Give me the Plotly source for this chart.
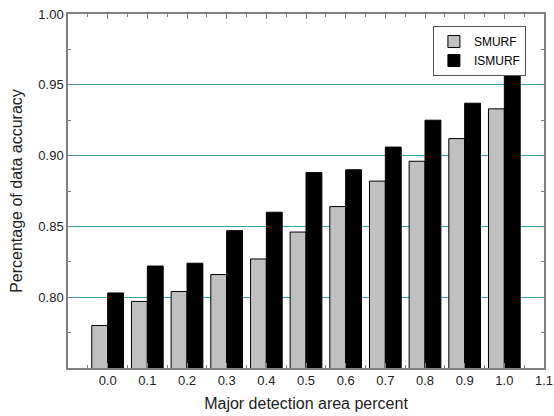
import plotly.graph_objects as go

x_vals = [0.0, 0.1, 0.2, 0.3, 0.4, 0.5, 0.6, 0.7, 0.8, 0.9, 1.0]
smurf = [0.780, 0.797, 0.804, 0.816, 0.827, 0.846, 0.864, 0.882, 0.896, 0.912, 0.933]
ismurf = [0.803, 0.822, 0.824, 0.847, 0.860, 0.888, 0.890, 0.906, 0.925, 0.937, 0.957]
x_ticks = [0.0, 0.1, 0.2, 0.3, 0.4, 0.5, 0.6, 0.7, 0.8, 0.9, 1.0, 1.1]
y_ticks = [0.80, 0.85, 0.90, 0.95, 1.00]

font = "Arial, Liberation Sans, Helvetica, sans-serif"

fig = go.Figure()
fig.add_trace(go.Bar(x=x_vals, y=smurf, name="SMURF",
                     marker=dict(color="#c0c0c0", line=dict(color="#000000", width=1))))
fig.add_trace(go.Bar(x=x_vals, y=ismurf, name="ISMURF",
                     marker=dict(color="#000000", line=dict(color="#000000", width=1))))

axis_common = dict(
    showline=True, linecolor="#808080", linewidth=1.5, mirror="allticks",
    ticks="inside", ticklen=5, tickcolor="#808080", tickwidth=1,
    tickfont=dict(family=font, size=13, color="#222222"),
    zeroline=False, automargin=False,
)

fig.update_layout(
    width=554, height=416,
    margin=dict(l=68, r=10, t=14, b=48),
    paper_bgcolor="white", plot_bgcolor="white",
    barmode="group", bargap=0.2, bargroupgap=0,
    font=dict(family=font, color="#222222"),
    showlegend=True,
    legend=dict(x=0.962, y=0.966, xanchor="right", yanchor="top",
                bordercolor="#555555", borderwidth=1, bgcolor="white",
                font=dict(family=font, size=12, color="#000000"),
                tracegroupgap=0, itemwidth=30),
    xaxis=dict(
        range=[-0.1, 1.1], tickvals=x_ticks,
        ticktext=[f"{v:.1f}" for v in x_ticks],
        showgrid=False,
        minor=dict(dtick=0.05, tick0=0, ticks="inside", ticklen=3, tickcolor="#808080", showgrid=False),
        title=dict(text="Major detection area percent", font=dict(family=font, size=16, color="#222222"), standoff=10),
        **axis_common,
    ),
    yaxis=dict(
        range=[0.75, 1.0], tickvals=y_ticks,
        ticktext=[f"{v:.2f}" for v in y_ticks],
        showgrid=True, gridcolor="#2ba8a8", gridwidth=1,
        minor=dict(tickvals=[0.775, 0.825, 0.875, 0.925, 0.975], ticks="inside", ticklen=3,
                   tickcolor="#808080", showgrid=False),
        title=dict(text="Percentage of data accuracy", font=dict(family=font, size=16, color="#222222"), standoff=12),
        **axis_common,
    ),
)

fig.write_html("out.html", config={"displayModeBar": False},
               post_script="document.body.style.margin='0';document.body.style.overflow='hidden';")
